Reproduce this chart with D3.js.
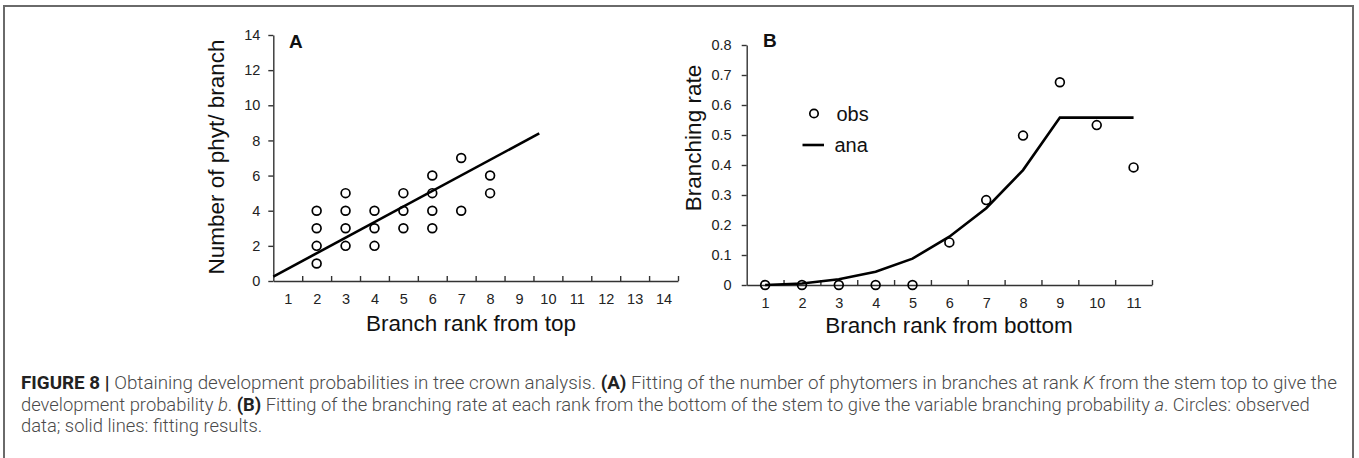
<!DOCTYPE html>
<html>
<head>
<meta charset="utf-8">
<script src="https://cdn.jsdelivr.net/npm/d3@7"></script>
<style>
  html, body { margin: 0; padding: 0; background: #fff; }
  svg { display: block; }
</style>
</head>
<body>
<svg id="chart" width="1359" height="458"></svg>
<script>
// ---------- DATA ----------
// Panel A: observed (rank from top, phytomers per branch)
const rankA = [2, 2, 2, 2, 3, 3, 3, 3, 4, 4, 4, 5, 5, 5, 6, 6, 6, 6, 7, 7, 8, 8];
const phytA = [1, 2, 3, 4, 2, 3, 4, 5, 2, 3, 4, 3, 4, 5, 3, 4, 5, 6, 4, 7, 5, 6];
// Panel A: fitted line endpoints
const fitRankA = [0.5, 9.7];
const fitPhytA = [0.25, 8.4];
// Panel B
const rankB = [1, 2, 3, 4, 5, 6, 7, 8, 9, 10, 11];
const obsB = [0, 0, 0, 0, 0, 0.142, 0.283, 0.498, 0.676, 0.533, 0.392];
const anaB = [0, 0.005, 0.019, 0.044, 0.088, 0.161, 0.256, 0.383, 0.558, 0.558, 0.558];
// Tick labels
const xTicksA = [1, 2, 3, 4, 5, 6, 7, 8, 9, 10, 11, 12, 13, 14];
const yTicksA = [0, 2, 4, 6, 8, 10, 12, 14];
const xTicksB = [1, 2, 3, 4, 5, 6, 7, 8, 9, 10, 11];
const yTicksB = [0, 0.1, 0.2, 0.3, 0.4, 0.5, 0.6, 0.7, 0.8];
// Texts
const titleXA = "Branch rank from top";
const titleYA = "Number of phyt/ branch";
const titleXB = "Branch rank from bottom";
const titleYB = "Branching rate";
const legendLabels = ["obs", "ana"];
const captionLines = [
  [["b", "FIGURE 8 | "], ["r", "Obtaining development probabilities in tree crown analysis. "], ["b", "(A)"], ["r", " Fitting of the number of phytomers in branches at rank "], ["i", "K"], ["r", " from the stem top to give the"]],
  [["r", "development probability "], ["i", "b"], ["r", ". "], ["b", "(B)"], ["r", " Fitting of the branching rate at each rank from the bottom of the stem to give the variable branching probability "], ["i", "a"], ["r", ". Circles: observed"]],
  [["r", "data; solid lines: fitting results."]]
];

// ---------- DRAW ----------
const svg = d3.select("#chart");
const AX = "#333";
const FONT = "'Liberation Sans', Arial, sans-serif";

// outer frame
svg.append("path")
  .attr("d", "M4,458 V6 H1353 V458")
  .attr("fill", "none").attr("stroke", "#6a6a6a").attr("stroke-width", 2);

function panel(cfg) {
  const g = svg.append("g");
  const x = d3.scaleLinear().domain(cfg.xDomain).range(cfg.xRange);
  const y = d3.scaleLinear().domain(cfg.yDomain).range(cfg.yRange);

  const ya = g.append("g").attr("transform", `translate(${cfg.xRange[0]},0)`)
    .call(d3.axisLeft(y).tickValues(cfg.yTicks).tickSizeInner(5).tickSizeOuter(0)
      .tickPadding(cfg.yPad).tickFormat(cfg.yFmt));
  const halfTicks = d3.range(cfg.xDomain[0] + 1, cfg.xDomain[1] + 0.01, 1);
  const xa = g.append("g").attr("transform", `translate(0,${cfg.yRange[0]})`)
    .call(d3.axisBottom(x).tickValues(halfTicks).tickSizeInner(-5).tickSizeOuter(0).tickFormat(""));
  const xl = g.append("g").attr("transform", `translate(0,${cfg.yRange[0]})`)
    .call(d3.axisBottom(x).tickValues(cfg.xTicks).tickSize(0).tickPadding(13).tickFormat(d3.format("d")));
  xl.select(".domain").remove();

  [ya, xa, xl].forEach(a => {
    a.selectAll("path, line").attr("stroke", AX).attr("stroke-width", 1.4);
    a.selectAll("text").attr("fill", "#222").style("font-family", FONT).style("font-size", "14.5px");
  });

  g.append("text").attr("x", cfg.xTitlePos[0]).attr("y", cfg.xTitlePos[1])
    .attr("text-anchor", "middle").style("font-family", FONT).style("font-size", "22.5px").attr("fill", "#111")
    .text(cfg.xTitle);
  g.append("text").attr("transform", `translate(${cfg.yTitlePos[0]},${cfg.yTitlePos[1]}) rotate(-90)`)
    .attr("text-anchor", "middle").style("font-family", FONT).style("font-size", "22.5px").attr("fill", "#111")
    .text(cfg.yTitle);
  g.append("text").attr("x", cfg.letterPos[0]).attr("y", cfg.letterPos[1])
    .style("font-family", FONT).style("font-size", "19px").style("font-weight", "bold").attr("fill", "#111")
    .text(cfg.letter);
  return { g, x, y };
}

// Panel A
const A = panel({
  xDomain: [0.5, 14.5], xRange: [273.3, 678],
  yDomain: [0, 14], yRange: [281, 35],
  xTicks: xTicksA, yTicks: yTicksA, yPad: 8, yFmt: d3.format("d"),
  xTitle: titleXA, xTitlePos: [471, 331],
  yTitle: titleYA, yTitlePos: [224, 157],
  letter: "A", letterPos: [289, 47.5]
});
A.g.append("path")
  .attr("d", d3.line().x(d => A.x(d[0])).y(d => A.y(d[1]))(d3.zip(fitRankA, fitPhytA)))
  .attr("fill", "none").attr("stroke", "#000").attr("stroke-width", 2.6);
A.g.selectAll("circle.obs").data(d3.zip(rankA, phytA)).join("circle")
  .attr("class", "obs")
  .attr("cx", d => A.x(d[0])).attr("cy", d => A.y(d[1])).attr("r", 4.4)
  .attr("fill", "none").attr("stroke", "#000").attr("stroke-width", 1.7);

// Panel B
const B = panel({
  xDomain: [0.5, 11.5], xRange: [746.7, 1152],
  yDomain: [0, 0.8], yRange: [285, 45],
  xTicks: xTicksB, yTicks: yTicksB, yPad: 10, yFmt: d => d === 0 ? "0" : d3.format(".1f")(d),
  xTitle: titleXB, xTitlePos: [949, 333],
  yTitle: titleYB, yTitlePos: [701, 138],
  letter: "B", letterPos: [763, 46.5]
});
B.g.append("path")
  .attr("d", d3.line().x(d => B.x(d[0])).y(d => B.y(d[1]))(d3.zip(rankB, anaB)))
  .attr("fill", "none").attr("stroke", "#000").attr("stroke-width", 2.6).attr("stroke-linejoin", "miter");
B.g.selectAll("circle.obs").data(d3.zip(rankB, obsB)).join("circle")
  .attr("class", "obs")
  .attr("cx", d => B.x(d[0])).attr("cy", d => B.y(d[1])).attr("r", 4.4)
  .attr("fill", "none").attr("stroke", "#000").attr("stroke-width", 1.7);

// Legend in B
const lg = B.g.append("g");
lg.append("circle").attr("cx", 814).attr("cy", 113.5).attr("r", 4.2)
  .attr("fill", "none").attr("stroke", "#000").attr("stroke-width", 1.7);
lg.append("line").attr("x1", 802.5).attr("x2", 824).attr("y1", 145).attr("y2", 145)
  .attr("stroke", "#000").attr("stroke-width", 2.6);
lg.selectAll("text").data(legendLabels).join("text")
  .attr("x", (d, i) => i === 0 ? 836.5 : 834.5)
  .attr("y", (d, i) => i === 0 ? 120.5 : 152)
  .style("font-family", FONT).style("font-size", "20px").attr("fill", "#111")
  .text(d => d);

// Caption
const CAP_FONT = "Roboto, 'Liberation Sans', sans-serif";
const capG = svg.append("g");
const capY = [389, 410.5, 432];
const capEnd = [1338, 1310, null];
const capX = 21;
const capTexts = captionLines.map((line, i) => {
  const t = capG.append("text").attr("x", 0).attr("y", 0)
    .attr("transform", `translate(${capX},${capY[i]})`)
    .style("font-family", CAP_FONT).style("font-size", "17.5px");
  line.forEach(([k, s]) => {
    t.append("tspan")
      .style("font-weight", k === "b" ? 700 : 300)
      .style("font-style", k === "i" ? "italic" : "normal")
      .attr("fill", k === "b" ? "#222" : "#4a4a4a")
      .text(s);
  });
  return t;
});
// fit the caption lines horizontally to the extents measured on the reference
let lastSx = 1;
capTexts.forEach((t, i) => {
  if (capEnd[i] !== null) lastSx = (capEnd[i] - capX) / t.node().getComputedTextLength();
  t.attr("transform", `translate(${capX},${capY[i]}) scale(${lastSx},1)`);
});
</script>
</body>
</html>
